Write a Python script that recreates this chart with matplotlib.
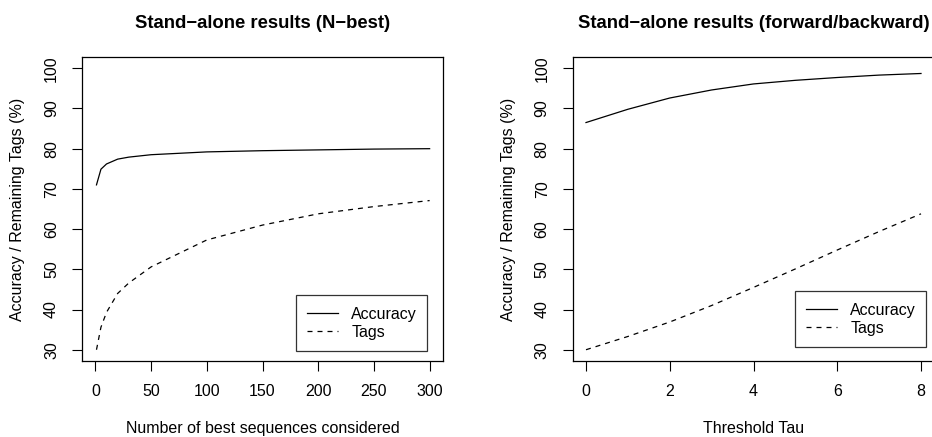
import matplotlib
matplotlib.use("Agg")
import matplotlib.pyplot as plt

plt.rcParams["font.family"] = ["Liberation Sans", "DejaVu Sans"]

# left panel: N-best
nbest_x = [1, 5, 10, 20, 30, 50, 100, 150, 200, 250, 300]
nbest_acc = [71.0, 74.9, 76.2, 77.4, 77.9, 78.5, 79.2, 79.5, 79.7, 79.9, 80.0]
nbest_tags = [30.0, 35.6, 39.3, 44.0, 46.6, 50.6, 57.3, 61.0, 63.8, 65.6, 67.1]

# right panel: forward/backward threshold
tau_x = [0, 1, 2, 3, 4, 5, 6, 7, 8]
tau_acc = [86.5, 89.8, 92.6, 94.6, 96.1, 97.0, 97.7, 98.3, 98.7]
tau_tags = [30.0, 33.3, 36.9, 41.0, 45.5, 50.1, 54.8, 59.4, 63.8]

W, H = 932, 437
fig = plt.figure(figsize=(W / 100, H / 100), dpi=100)


def px_axes(x0, x1, top, bottom):
    return fig.add_axes([x0 / W, (H - bottom) / H, (x1 - x0) / W, (bottom - top) / H])


def style(ax, title, xlabel, xticks, xlim, legend_box):
    ax.set_title(title, fontsize=13.3, fontweight="bold", pad=21)
    ax.set_xlabel(xlabel, fontsize=11.5, labelpad=16)
    ax.set_ylabel("Accuracy / Remaining Tags (%)", fontsize=11.5, labelpad=13.5)
    ax.set_xlim(*xlim)
    ax.set_ylim(27.2, 102.8)
    ax.set_xticks(xticks)
    ax.set_yticks(range(30, 101, 10))
    ax.tick_params(direction="out", length=7.5, width=0.8, labelsize=11.5, pad=9)
    for lab in ax.get_yticklabels():
        lab.set_rotation(90)
        lab.set_va("center")
    for sp in ax.spines.values():
        sp.set_linewidth(0.9)
    leg = ax.legend(loc="lower left", bbox_to_anchor=legend_box, mode="expand",
                    fontsize=11.5, frameon=True, fancybox=False, edgecolor="black",
                    handlelength=1.9, handletextpad=0.85, labelspacing=0.2,
                    borderpad=0.7, borderaxespad=0)
    leg.get_frame().set_linewidth(0.9)


ax1 = px_axes(82, 443, 57, 361)
ax1.plot(nbest_x, nbest_acc, color="black", lw=0.9, label="Accuracy")
ax1.plot(nbest_x, nbest_tags, color="black", lw=0.9, ls=(0, (4, 4)), label="Tags")
style(ax1, "Stand\u2212alone results (N\u2212best)", "Number of best sequences considered",
      range(0, 301, 50), (-12, 312), (0.593, 0.033, 0.363, 0.191))

ax2 = px_axes(572.6, 934.4, 57, 361)
ax2.plot(tau_x, tau_acc, color="black", lw=0.9, label="Accuracy")
ax2.plot(tau_x, tau_tags, color="black", lw=0.9, ls=(0, (4, 4)), label="Tags")
style(ax2, "Stand\u2212alone results (forward/backward)", "Threshold Tau",
      range(0, 9, 2), (-0.32, 8.32), (0.615, 0.046, 0.362, 0.191))

fig.savefig("out.png", dpi=100)
